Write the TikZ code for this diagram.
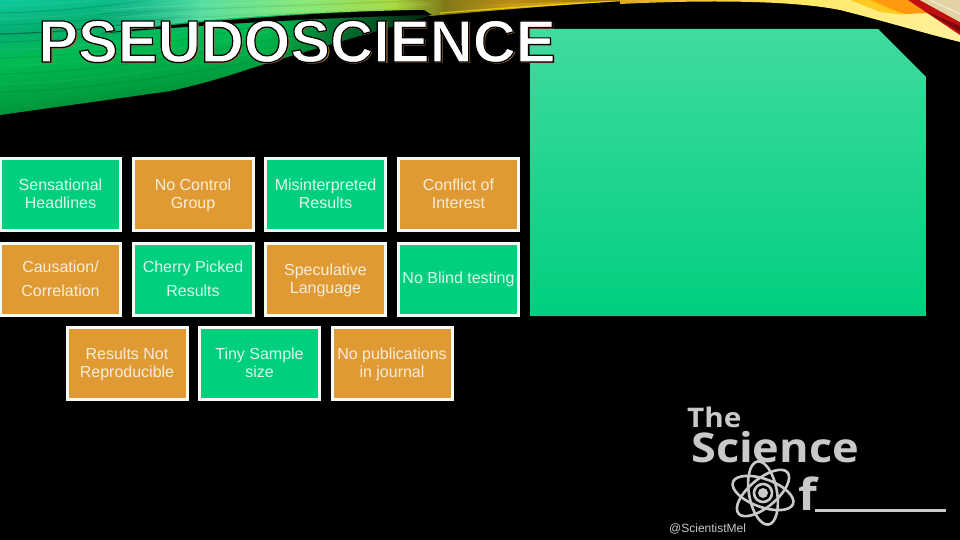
\documentclass[tikz,border=0pt]{standalone}
\usepackage{fontspec}
\setmainfont{Liberation Sans}
\newfontfamily\logofont[FakeStretch=1.1]{Open Sans}
\usetikzlibrary{fadings}
\definecolor{boxgreen}{HTML}{00CF7E}
\definecolor{boxorange}{HTML}{E09A33}
\definecolor{boxedge}{HTML}{F4FBF4}
\definecolor{logogray}{HTML}{C9C9C9}
\definecolor{shadowbrown}{HTML}{9A6A3C}
\definecolor{swa}{HTML}{003E14}
\definecolor{swb}{HTML}{007828}
\definecolor{swc}{HTML}{00A040}
\definecolor{swd}{HTML}{00BC50}
\definecolor{swe}{HTML}{05AE70}
\definecolor{swf}{HTML}{12D0A8}
\definecolor{swg}{HTML}{2FA8B8}
\definecolor{upa}{HTML}{30C8B0}
\definecolor{upb}{HTML}{55DDA0}
\definecolor{upc}{HTML}{85E878}
\definecolor{upd}{HTML}{A8D840}
\definecolor{upe}{HTML}{807818}
\definecolor{upf}{HTML}{C89A18}
\definecolor{upg}{HTML}{E0A818}
\definecolor{rib}{HTML}{FFE860}
\definecolor{ric}{HTML}{FFF2A0}
\definecolor{bookred}{HTML}{C01010}
\definecolor{bookpage}{HTML}{E2D2A4}
\definecolor{fireorange}{HTML}{FF9A10}
\tikzfading[name=fadein, left color=transparent!100, right color=transparent!0]
\tikzset{
  cardbase/.style={draw=boxedge,line width=3pt,minimum width=120pt,minimum height=72pt,inner sep=0pt,align=center,font=\fontsize{16}{18}\selectfont},
  greencard/.style={cardbase,fill=boxgreen,text=white!85!boxgreen},
  orangecard/.style={cardbase,fill=boxorange,text=white!82!boxorange},
  titletext/.style={inner sep=0pt,anchor=base west,font=\fontsize{59.7}{60}\bfseries\selectfont},
  logotext/.style={inner sep=0pt,text=logogray,anchor=base west},
  orbit/.style={draw=logogray,line width=2.6pt}
}
\newcommand\cardtext[2]{\rule{0pt}{14pt}#1\\#2\rule[-3.4pt]{0pt}{3.4pt}}
\pgfdeclareverticalshading{swooshv}{100bp}{color(0bp)=(swa);color(13bp)=(swb);color(30bp)=(swc);color(47bp)=(swd);color(60bp)=(swe);color(78bp)=(swf);color(100bp)=(swg)}
\begin{document}
\begin{tikzpicture}[x=1pt,y=-1pt]
\useasboundingbox (0,0) rectangle (960,540);
\fill[black] (0,0) rectangle (960,540);
% left swoosh
\begin{scope}
\clip (0,0) -- (440,0) -- (440,12) .. controls (390,28) and (300,52) .. (240,72) .. controls (170,95) and (90,108) .. (0,115) -- cycle;
\begin{scope}[transform canvas={rotate around={8:(0,115)}}]
\shade[shading=swooshv] (-100,0) rectangle (700,115);
\end{scope}
\foreach \yy/\cc/\oo in {6/white/.06,13/black/.12,19/white/.08,25/black/.08,34/black/.35,42/black/.1,50/white/.06,58/black/.08,66/white/.05,74/black/.08,84/white/.05,92/black/.08}{
  \draw[\cc,opacity=\oo,line width=1.2pt] (0,\yy) .. controls (90,\yy-2) and (170,\yy-14) .. (300,\yy-40);
}
\fill[black,path fading=fadein,opacity=.85] (270,0) rectangle (440,110);
\end{scope}
% upper band
\begin{scope}
\clip (100,0) -- (640,0) .. controls (570,4) and (500,10) .. (430,16) -- (424,10) .. controls (340,11) and (240,16) .. (170,24) .. controls (140,28) and (120,31) .. (100,33) -- cycle;
\shade[left color=upa,right color=upb,path fading=fadein] (100,-2) rectangle (200,40);
\shade[left color=upb,right color=upc] (199.5,-2) rectangle (300.5,40);
\shade[left color=upc,right color=upd] (300,-2) rectangle (395.5,40);
\shade[left color=upd,right color=upe] (395,-2) rectangle (445.5,40);
\shade[left color=upe,right color=upf] (445,-2) rectangle (510.5,40);
\shade[left color=upf,right color=upg] (510,-2) rectangle (645,40);
\foreach \yy/\cc/\oo in {4/white/.1,8/black/.08,12/white/.08,16/black/.06,21/white/.08}{
  \draw[\cc,opacity=\oo,line width=1.2pt] (100,\yy+6) .. controls (200,\yy) and (300,\yy-2) .. (430,\yy-8);
}
\fill[black,opacity=.3,path fading=fadein] (460,0) -- (640,0) -- (640,1) .. controls (580,1.5) and (520,3) .. (460,5) -- cycle;
\draw[yellow,opacity=.6,line width=1.2pt] (440,13) .. controls (490,9) and (560,4) .. (640,0);
\end{scope}
% black stripe
\fill[black] (100,33.5) .. controls (170,24) and (300,12) .. (424,10) -- (432,15) .. controls (300,18) and (180,27) .. cycle;
% right swoosh
\begin{scope}
\clip (620,0) -- (960,0) -- (960,42) .. controls (920,32) and (880,20) .. (840,10) .. controls (790,0) and (700,0) .. (620,4) -- cycle;
\shade[left color=upg,right color=rib] (615,-2) rectangle (790.5,45);
\shade[left color=rib,right color=ric] (790,-2) rectangle (965,45);
\fill[fireorange] (868,0) -- (912,0) -- (930,13) -- (905,14) .. controls (890,10) and (880,5) .. cycle;
\fill[fireorange!60!yellow,opacity=.8] (850,0) -- (872,0) -- (905,15) -- (880,12) -- cycle;
\end{scope}
\fill[bookred] (908,0) -- (920,0) -- (960,22) -- (960,35) -- cycle;
\fill[bookred!65!black] (925,11) -- (960,26) -- (960,32) -- cycle;
\fill[bookpage] (920,0) -- (960,0) -- (960,22) -- cycle;
\draw[white!60!bookpage,line width=1pt] (930,0) -- (960,14);
% panel
\shade[top color=white!25!boxgreen,bottom color=boxgreen] (530,29) -- (878,29) -- (926,77) -- (926,316) -- (530,316) -- cycle;
% title
\node[titletext,text=shadowbrown] (titleshadow) at (39.8,63.8) {PSEUDOSCIENCE};
\node[titletext,text=white] (title) at (38,62) {\special{pdf:code 2 Tr 1.2 w 0 0 0 RG}PSEUDOSCIENCE\special{pdf:code 0 Tr}};
% cards
\node[greencard] (c1) at (60.5,194.5) {\cardtext{Sensational}{Headlines}};
\node[orangecard] (c2) at (193,194.5) {\cardtext{No Control}{Group}};
\node[greencard] (c3) at (325.5,194.5) {\cardtext{Misinterpreted}{Results}};
\node[orangecard] (c4) at (458.5,194.5) {\cardtext{Conflict of}{Interest}};
\node[orangecard] (c5) at (60.5,279) {Causation/\\[6pt]Correlation};
\node[greencard] (c6) at (193,279) {Cherry Picked\\[6pt]Results};
\node[orangecard] (c7) at (325.5,279) {\cardtext{Speculative}{Language}};
\node[greencard] (c8) at (458.5,279) {No Blind testing};
\node[orangecard] (c9) at (127,363.5) {\cardtext{Results Not}{Reproducible}};
\node[greencard] (c10) at (259.5,363.5) {\cardtext{Tiny Sample}{size}};
\node[orangecard] (c11) at (392,363.5) {\cardtext{No publications}{in journal}};
% logo
\node[logotext,font=\logofont\bfseries\fontsize{27}{27}\selectfont] (logothe) at (687,427) {The};
\node[logotext,font=\logofont\bfseries\fontsize{41}{41}\selectfont] (logoscience) at (691,462) {Science};
\node[logotext,font=\logofont\bfseries\fontsize{44}{44}\selectfont] (logof) at (798,510) {f};
\fill[logogray] (815,508.5) rectangle (946,512);
\draw[orbit,rotate around={100:(763,493)}] (763,493) ellipse [x radius=32,y radius=14];
\draw[orbit,rotate around={40:(763,493)}] (763,493) ellipse [x radius=32,y radius=14];
\draw[orbit,rotate around={160:(763,493)}] (763,493) ellipse [x radius=32,y radius=14];
\draw[orbit] (763,493) circle (9);
\fill[logogray] (763,493) circle (5);
\node[logotext,font=\fontsize{12}{12}\selectfont] (handle) at (669,532) {@ScientistMel};
\end{tikzpicture}
\end{document}
